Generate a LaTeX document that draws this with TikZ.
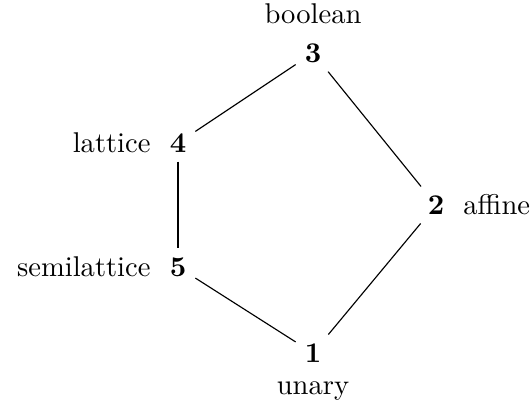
\documentclass[tikz,border=0pt]{standalone}
\usepackage{tikz}
\usetikzlibrary{positioning}

\begin{document}
\begin{tikzpicture}[
    x=0.35pt, y=-0.35pt,
    clone/.style={font=\bfseries, inner sep=3pt, label distance=1pt},
    edge/.style={thin}
]
\useasboundingbox (0,0) rectangle (530,406);

% Clones
\node[clone, label={above:boolean}] (boolean) at (313,53) {3};
\node[clone, label={left:lattice}] (lattice) at (178,143) {4};
\node[clone, label={right:affine}] (affine) at (436,205) {2};
\node[clone, label={left:semilattice}] (semilattice) at (178,267) {5};
\node[clone, label={below:unary}] (unary) at (313,353) {1};

% Edges
\draw[edge] (boolean) -- (lattice);
\draw[edge] (boolean) -- (affine);
\draw[edge] (lattice) -- (semilattice);
\draw[edge] (semilattice) -- (unary);
\draw[edge] (unary) -- (affine);

\end{tikzpicture}
\end{document}
